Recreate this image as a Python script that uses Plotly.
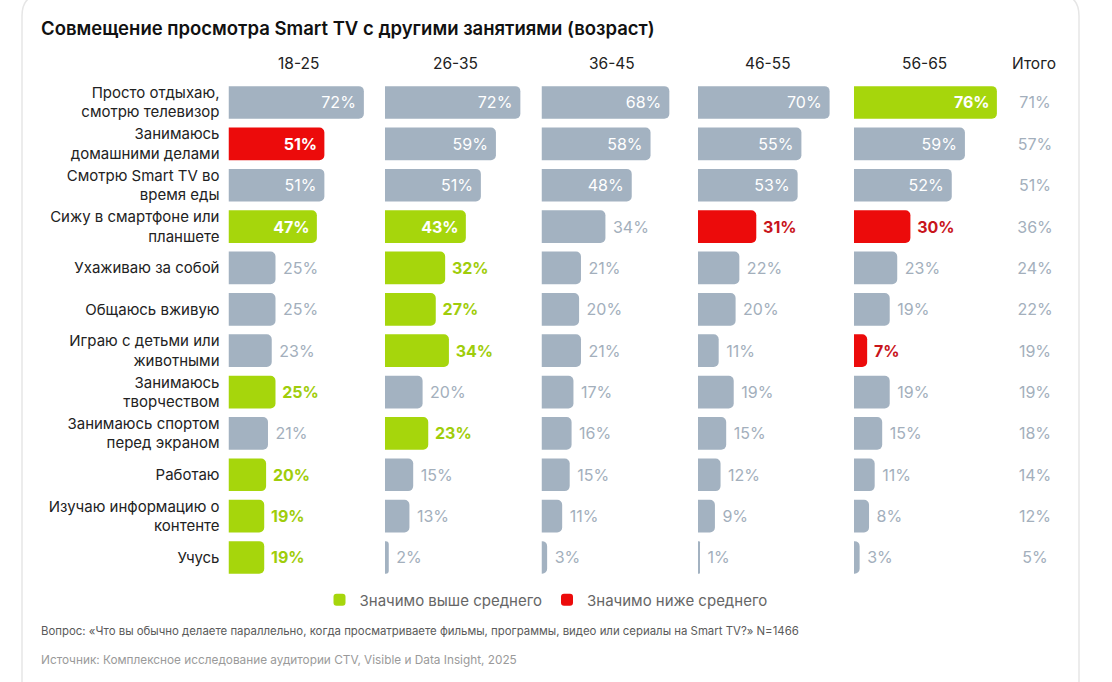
import plotly.graph_objects as go

W, H = 1112, 682

def fx(p):
    return p / W

def fy(p):
    return 1 - p / H

# ---------------- data ----------------
title = "Совмещение просмотра Smart TV с другими занятиями (возраст)"
groups = ["18-25", "26-35", "36-45", "46-55", "56-65"]
total_label = "Итого"
categories = [
    "Просто отдыхаю, смотрю телевизор",
    "Занимаюсь домашними делами",
    "Смотрю Smart TV во время еды",
    "Сижу в смартфоне или планшете",
    "Ухаживаю за собой",
    "Общаюсь вживую",
    "Играю с детьми или животными",
    "Занимаюсь творчеством",
    "Занимаюсь спортом перед экраном",
    "Работаю",
    "Изучаю информацию о контенте",
    "Учусь",
]
category_labels = [
    "Просто отдыхаю,<br>смотрю телевизор",
    "Занимаюсь<br>домашними делами",
    "Смотрю Smart TV во<br>время еды",
    "Сижу в смартфоне или<br>планшете",
    "Ухаживаю за собой",
    "Общаюсь вживую",
    "Играю с детьми или<br>животными",
    "Занимаюсь<br>творчеством",
    "Занимаюсь спортом<br>перед экраном",
    "Работаю",
    "Изучаю информацию о<br>контенте",
    "Учусь",
]
values_18_25 = [72, 51, 51, 47, 25, 25, 23, 25, 21, 20, 19, 19]
values_26_35 = [72, 59, 51, 43, 32, 27, 34, 20, 23, 15, 13, 2]
values_36_45 = [68, 58, 48, 34, 21, 20, 21, 17, 16, 15, 11, 3]
values_46_55 = [70, 55, 53, 31, 22, 20, 11, 19, 15, 12, 9, 1]
values_56_65 = [76, 59, 52, 30, 23, 19, 7, 19, 15, 11, 8, 3]
# significance: n = neutral, g = significantly above average, r = significantly below
sig_18_25 = ["n", "r", "n", "g", "n", "n", "n", "g", "n", "g", "g", "g"]
sig_26_35 = ["n", "n", "n", "g", "g", "g", "g", "n", "g", "n", "n", "n"]
sig_36_45 = ["n", "n", "n", "n", "n", "n", "n", "n", "n", "n", "n", "n"]
sig_46_55 = ["n", "n", "n", "r", "n", "n", "n", "n", "n", "n", "n", "n"]
sig_56_65 = ["g", "n", "n", "r", "n", "n", "r", "n", "n", "n", "n", "n"]
totals = [71, 57, 51, 36, 24, 22, 19, 19, 18, 14, 12, 5]
legend_names = {"g": "Значимо выше среднего", "r": "Значимо ниже среднего"}
question = ("Вопрос: «Что вы обычно делаете параллельно, когда просматриваете фильмы, "
            "программы, видео или сериалы на Smart TV?» N=1466")
source = "Источник: Комплексное исследование аудитории CTV, Visible и Data Insight, 2025"

group_values = [values_18_25, values_26_35, values_36_45, values_46_55, values_56_65]
group_sig = [sig_18_25, sig_26_35, sig_36_45, sig_46_55, sig_56_65]

# ---------------- style ----------------
FONT = "Inter"
BAR_COLORS = {"n": "#a3b2c1", "g": "#a6d60c", "r": "#ec0b0b"}
OUT_TEXT = {"n": "#a3afbc", "g": "#9fcd0b", "r": "#c8141b"}
OUT_WEIGHT = {"n": 400, "g": 700, "r": 700}
IN_WEIGHT = {"n": 400, "g": 700, "r": 700}
NB = "\u00a0"
INSIDE_MIN = 40

group_start_px = [228.5, 385, 541.5, 698, 854]
px_per_pct = 1.88
dom_w = 150
row_top, row_bot = 102.5, 557.5
pitch = (row_bot - row_top) / (len(categories) - 1)
y_dom = [fy(row_bot + pitch / 2), fy(row_top - pitch / 2)]

fig = go.Figure()
legend_done = set()

for gi, (vals, sigs) in enumerate(zip(group_values, group_sig)):
    ax = "" if gi == 0 else str(gi + 1)
    for s in ["n", "g", "r"]:
        idx = [i for i, v in enumerate(sigs) if v == s]
        if not idx:
            continue
        xs = [vals[i] for i in idx]
        ys = [categories[i] for i in idx]
        pos = ["inside" if vals[i] >= INSIDE_MIN else "outside" for i in idx]
        txt = [(f"{vals[i]}%{NB}" if vals[i] >= INSIDE_MIN else f"{NB}{vals[i]}%") for i in idx]
        show = s != "n" and s not in legend_done
        if show:
            legend_done.add(s)
        fig.add_trace(go.Bar(
            x=xs, y=ys, orientation="h",
            xaxis="x" + ax, yaxis="y" + ax,
            marker=dict(color=BAR_COLORS[s], line=dict(width=0)),
            width=0.79,
            text=txt, textposition=pos, insidetextanchor="end",
            insidetextfont=dict(family=FONT, size=16, color="white", weight=IN_WEIGHT[s]),
            outsidetextfont=dict(family=FONT, size=16, color=OUT_TEXT[s], weight=OUT_WEIGHT[s]),
            constraintext="none", cliponaxis=False,
            hoverinfo="skip",
            name=legend_names.get(s, ""), legendgroup=s, showlegend=show,
        ))

# total column: transparent full-width bars carrying centred labels
fig.add_trace(go.Bar(
    x=[1] * len(totals), y=categories, orientation="h",
    xaxis="x6", yaxis="y6", width=0.79,
    marker=dict(color="rgba(0,0,0,0)", line=dict(width=0)),
    text=[f"{t}%" for t in totals], textposition="inside", insidetextanchor="middle",
    insidetextfont=dict(family=FONT, size=16, color="#a3afbc", weight=400),
    constraintext="none", cliponaxis=False,
    showlegend=False, hoverinfo="skip",
))

layout = dict(
    width=W, height=H,
    margin=dict(l=0, r=0, t=0, b=0),
    paper_bgcolor="white", plot_bgcolor="rgba(0,0,0,0)",
    barcornerradius=5,
    font=dict(family=FONT, color="#222"),
    showlegend=True,
    legend=dict(orientation="h", x=fx(546), xanchor="center", y=fy(600), yanchor="middle",
                font=dict(family=FONT, size=15, color="#666"), bgcolor="rgba(0,0,0,0)",
                itemclick=False, itemdoubleclick=False, tracegroupgap=0),
)

rng_y = [len(categories) - 0.5, -0.5]
for k in range(6):
    ax = "" if k == 0 else str(k + 1)
    if k < 5:
        d = [fx(group_start_px[k]), fx(group_start_px[k] + dom_w)]
        xr = [0, dom_w / px_per_pct]
    else:
        d = [fx(1005), fx(1065)]
        xr = [0, 1]
    layout["xaxis" + ax] = dict(domain=d, range=xr, visible=False, fixedrange=True,
                                anchor="y" + ax)
    ydict = dict(domain=y_dom, type="category", categoryorder="array",
                 categoryarray=categories, range=rng_y, anchor="x" + ax,
                 showgrid=False, zeroline=False, showline=False, ticks="",
                 fixedrange=True)
    if k == 0:
        ydict.update(tickmode="array", tickvals=categories, ticktext=category_labels,
                     tickfont=dict(family=FONT, size=15, color="#222"),
                     ticklabelstandoff=8)
    else:
        ydict.update(showticklabels=False)
    layout["yaxis" + ax] = ydict

fig.update_layout(**layout)

ann = []
ann.append(dict(text=title, x=fx(39), y=fy(28), xref="paper", yref="paper",
                xanchor="left", yanchor="middle", showarrow=False,
                font=dict(family=FONT, size=18.5, color="#111", weight=600)))
for gi, g in enumerate(groups):
    ann.append(dict(text=g, x=fx(group_start_px[gi] + 70), y=fy(63), xref="paper", yref="paper",
                    xanchor="center", yanchor="middle", showarrow=False,
                    font=dict(family=FONT, size=15.5, color="#222")))
ann.append(dict(text=total_label, x=fx(1034), y=fy(63), xref="paper", yref="paper",
                xanchor="center", yanchor="middle", showarrow=False,
                font=dict(family=FONT, size=15.5, color="#222")))
ann.append(dict(text=question, x=fx(39), y=fy(631), xref="paper", yref="paper",
                xanchor="left", yanchor="middle", showarrow=False,
                font=dict(family=FONT, size=11.4, color="#5a5a5a")))
ann.append(dict(text=source, x=fx(39), y=fy(660), xref="paper", yref="paper",
                xanchor="left", yanchor="middle", showarrow=False,
                font=dict(family=FONT, size=11.8, color="#9a9a9a")))
fig.update_layout(annotations=ann)

# card outline
x0, x1, y0, y1, r = 22, 1079, -6, 700, 22
path = (f"M {fx(x0 + r)},{fy(y0)} L {fx(x1 - r)},{fy(y0)} "
        f"Q {fx(x1)},{fy(y0)} {fx(x1)},{fy(y0 + r)} L {fx(x1)},{fy(y1)} "
        f"L {fx(x0)},{fy(y1)} L {fx(x0)},{fy(y0 + r)} "
        f"Q {fx(x0)},{fy(y0)} {fx(x0 + r)},{fy(y0)} Z")
fig.add_shape(type="path", path=path, xref="paper", yref="paper",
              line=dict(color="#e6e6e6", width=1.5), fillcolor="rgba(0,0,0,0)", layer="below")

fig.write_html("out.html")
